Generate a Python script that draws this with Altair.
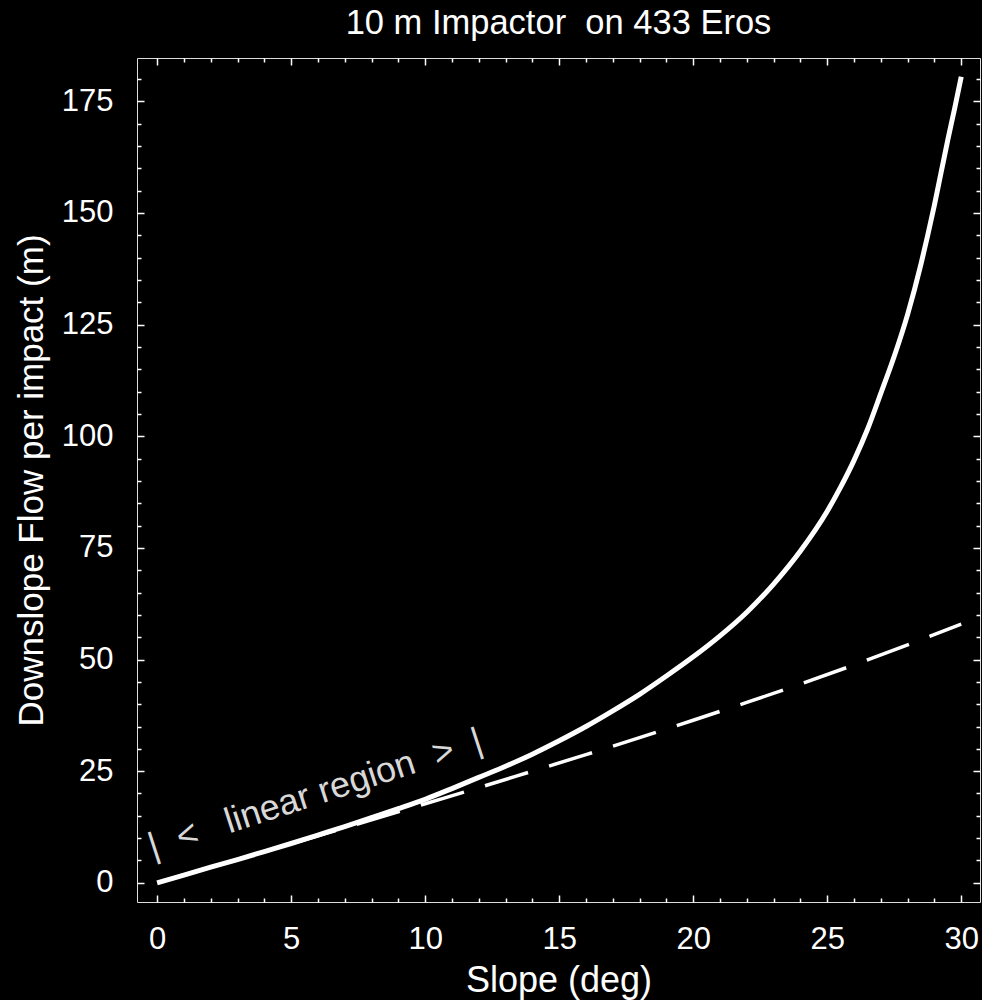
import altair as alt
import pandas as pd

# ---- data ----
slope_solid = [0, 1, 2, 3, 4, 5, 6, 7, 8, 9, 10, 11, 12, 13, 14, 15, 16, 17, 18, 19,
               20, 21, 22, 23, 24, 25, 25.5, 26, 26.5, 27, 27.5, 28, 28.5, 28.75, 29,
               29.25, 29.5, 29.75, 30]
flow_solid = [0, 1.7, 3.5, 5.2, 7.0, 8.8, 10.7, 12.6, 14.6, 16.6, 18.7, 21.1, 23.6, 26.1,
              28.8, 31.8, 35.0, 38.5, 42.2, 46.3, 50.6, 55.3, 60.6, 66.9, 74.3, 83.2, 88.6,
              94.6, 101.5, 109.6, 117.9, 127.3, 138.6, 145.0, 151.8, 159.1, 166.4, 173.3, 180.5]

slope_dashed = [0, 2, 4, 6, 8, 10, 12, 14, 16, 18, 20, 22, 24, 26, 28, 30]
flow_dashed = [0, 3.5, 7.0, 10.5, 14.1, 17.7, 21.3, 25.0, 28.7, 32.5, 36.4, 40.4, 44.5,
               48.8, 53.3, 57.9]

x_major = [0, 5, 10, 15, 20, 25, 30]
x_minor = list(range(0, 31))
y_major = [0, 25, 50, 75, 100, 125, 150, 175]
y_minor = list(range(0, 181, 5))

NB = "\u00a0"
note_text = ["|" + NB * 2 + "<" + NB * 3 + "linear region" + NB * 2 + ">" + NB * 2 + "|"]
note_x = [5.9]
note_y = [19.9]

title_text = "10 m Impactor" + NB + " on 433 Eros"
x_title = "Slope (deg)"
y_title = "Downslope Flow per impact (m)"

# ---- build ----
W, H = 843, 844
FONT = "Liberation Sans"

df_solid = pd.DataFrame({"slope": slope_solid, "flow": flow_solid})
df_dashed = pd.DataFrame({"slope": slope_dashed, "flow": flow_dashed})
df_note = pd.DataFrame({"slope": note_x, "flow": note_y, "label": note_text})

xscale = alt.Scale(domain=[-0.75, 30.7], nice=False, zero=False)
yscale = alt.Scale(domain=[-4.3, 184.7], nice=False, zero=False)

xs_cond = {"condition": {"test": "datum.value % 5 === 0", "value": 7}, "value": 4}
ys_cond = {"condition": {"test": "datum.value % 25 === 0", "value": 7}, "value": 4}

tick_common = dict(labels=False, domain=False, grid=False, tickColor="white",
                   tickWidth=1.5, title=None)

solid = alt.Chart(df_solid).mark_line(color="white", strokeWidth=5,
                                      interpolate="monotone").encode(
    x=alt.X("slope:Q", scale=xscale,
            axis=alt.Axis(orient="bottom", values=x_major, ticks=False, tickSize=0,
                          domain=False, grid=False, labelColor="white",
                          labelFontSize=31, labelPadding=22, labelFont=FONT,
                          title=x_title, titleColor="white", titleFontSize=36,
                          titleFont=FONT, titleFontWeight="normal",
                          titleY=89, titleBaseline="alphabetic")),
    y=alt.Y("flow:Q", scale=yscale,
            axis=alt.Axis(orient="left", values=y_major, ticks=False, tickSize=0,
                          domain=False, grid=False, labelColor="white",
                          labelFontSize=31, labelPadding=24, labelFont=FONT,
                          title=y_title, titleColor="white", titleFontSize=35,
                          titleFont=FONT, titleFontWeight="normal",
                          titleX=-95, titleBaseline="alphabetic")),
)

dashed = alt.Chart(df_dashed).mark_line(color="white", strokeWidth=3.5,
                                        strokeDash=[45, 22], strokeDashOffset=60,
                                        interpolate="monotone").encode(
    x=alt.X("slope:Q", scale=xscale,
            axis=alt.Axis(orient="top", offset=-H, values=x_minor, tickSize=xs_cond,
                          **tick_common)),
    y=alt.Y("flow:Q", scale=yscale,
            axis=alt.Axis(orient="right", offset=-W, values=y_minor, tickSize=ys_cond,
                          **tick_common)),
)

note = alt.Chart(df_note).mark_text(
    angle=342, fontSize=36, font=FONT, color="#d8d8d8", align="center",
    baseline="middle").encode(
    x=alt.X("slope:Q", scale=xscale,
            axis=alt.Axis(orient="bottom", offset=-H, values=x_minor, tickSize=xs_cond,
                          **tick_common)),
    y=alt.Y("flow:Q", scale=yscale,
            axis=alt.Axis(orient="left", offset=-W, values=y_minor, tickSize=ys_cond,
                          **tick_common)),
    text="label:N",
)

chart = alt.layer(solid, dashed, note).resolve_axis(
    x="independent", y="independent"
).properties(
    width=W, height=H,
    title=alt.TitleParams(title_text, fontSize=34.5, color="white", font=FONT,
                          fontWeight="normal", anchor="middle", offset=22, dy=33,
                          frame="group", baseline="alphabetic"),
    autosize=alt.AutoSizeParams(type="none"),
    padding={"left": 137, "top": 58, "right": 2, "bottom": 98},
    background="black",
).configure_view(stroke="white", strokeWidth=2).configure(font=FONT)

chart.save("out.html", embed_options={"renderer": "svg", "actions": False})
